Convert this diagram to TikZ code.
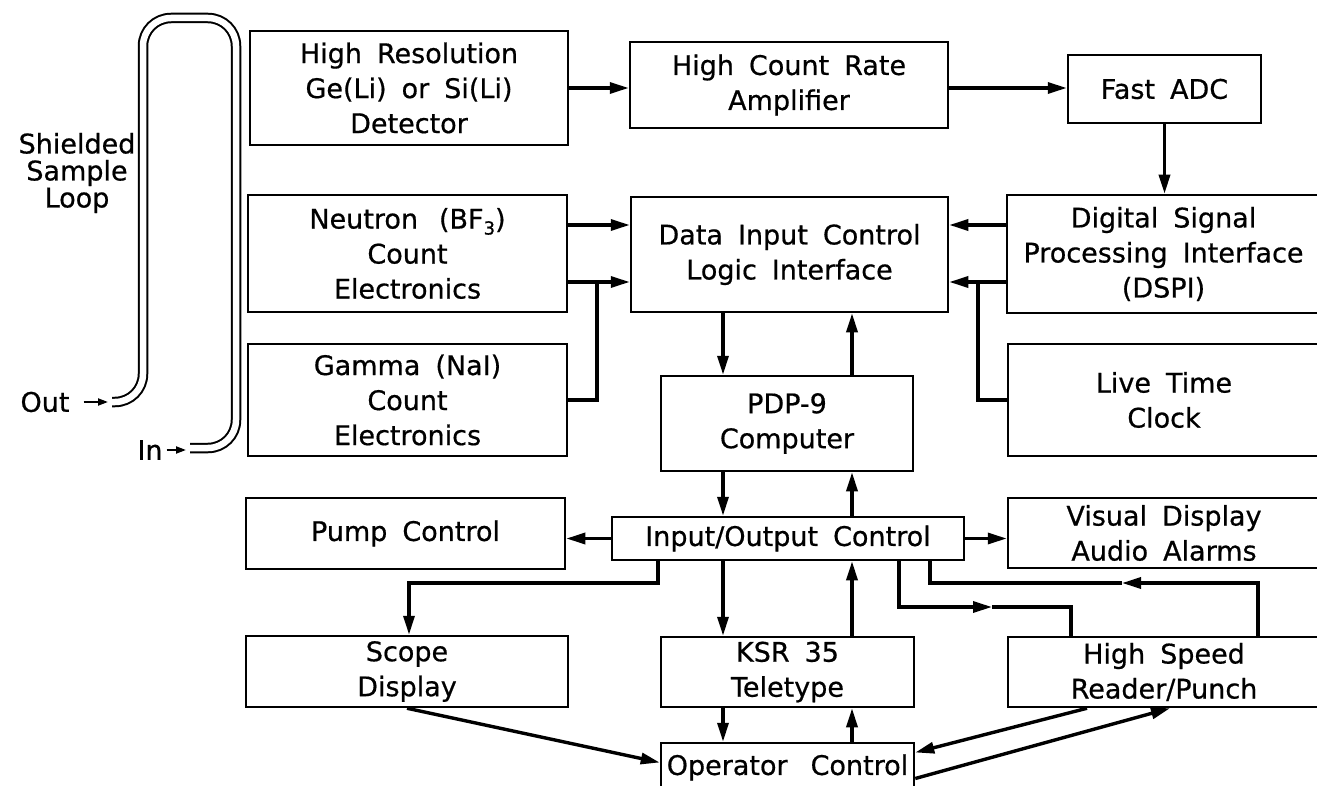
\documentclass[tikz,border=0pt]{standalone}
\usepackage{fontspec}
\setmainfont{DejaVu Sans}[FakeBold=0.6]
\usetikzlibrary{arrows.meta}
\newcommand\myboxfont{\fontsize{27}{35}\selectfont\spaceskip=15pt plus 3pt minus 2pt\relax}
\begin{document}
\begin{tikzpicture}[x=1pt,y=-1pt,
  box/.style={draw, line width=2.5pt, inner sep=0pt, align=center, font=\myboxfont},
  conn/.style={line width=3.4pt},
  arr/.style={conn, -{Triangle[length=19pt,width=11pt]}},
  smallarr/.style={line width=2pt, -{Triangle[length=10pt,width=7pt]}},
  tube/.style={double, double distance=6.5pt, line width=2pt, rounded corners=28pt},
  lbl/.style={inner sep=0pt, align=center, font=\fontsize{27}{27}\selectfont},
]
\useasboundingbox (0,0) rectangle (1317,786);
\clip (0,0) rectangle (1317,786);

% ---------- boxes ----------
\node[box, minimum width=318pt, minimum height=114pt] (det) at (409,88)
  {High Resolution\\Ge(Li) or Si(Li)\\Detector};
\node[box, minimum width=318pt, minimum height=86pt] (amp) at (789,85)
  {High Count Rate\\Amplifier};
\node[box, minimum width=193pt, minimum height=68pt] (adc) at (1164.5,89)
  {Fast ADC};
\node[box, minimum width=319pt, minimum height=117pt] (neut) at (407.5,253.5)
  {Neutron\hspace{6pt} (BF{\fontsize{18}{18}\selectfont\raisebox{-6pt}{3}})\\Count\\Electronics};
\node[box, minimum width=317pt, minimum height=115pt] (dicl) at (789.5,254.5)
  {Data Input Control\\Logic Interface};
\node[box, minimum width=313pt, minimum height=118pt] (dspi) at (1163.5,254)
  {Digital Signal\\Processing Interface\\(DSPI)};
\node[box, minimum width=319pt, minimum height=112pt] (gamma) at (407.5,400)
  {Gamma (NaI)\\Count\\Electronics};
\node[box, minimum width=252pt, minimum height=95pt] (pdp) at (787,423.5)
  {PDP-9\\Computer};
\node[box, minimum width=312pt, minimum height=112pt] (live) at (1164,400)
  {Live Time\\Clock};
\node[box, minimum width=319pt, minimum height=71pt] (pump) at (405.5,533.5)
  {Pump Control};
\node[box, minimum width=352pt, minimum height=43pt] (io) at (788,538.5)
  {Input/Output Control};
\node[box, minimum width=312pt, minimum height=70pt] (vis) at (1164,533)
  {Visual Display\\Audio Alarms};
\node[box, minimum width=322pt, minimum height=71pt] (scope) at (407,671.5)
  {Scope\\Display};
\node[box, minimum width=253pt, minimum height=70pt] (ksr) at (787.5,672)
  {KSR 35\\Teletype};
\node[box, minimum width=253pt, minimum height=49pt] (op) at (787.5,767.5)
  {Operator\hspace{8pt} Control};
\node[box, minimum width=312pt, minimum height=70pt] (hsrp) at (1164,672)
  {High Speed\\Reader/Punch};

% ---------- sample loop ----------
\node[lbl] (shl) at (77,173) {Shielded\\Sample\\Loop};
\node[lbl] (outl) at (45,402) {Out};
\node[lbl] (inl) at (150,450) {In};
\coordinate (outT) at (108,402);
\coordinate (inT) at (186,450);
\draw[tube] (112,402) -- (143,402) -- (143,18) -- (236,18) -- (236,448) -- (190,448);
\draw[smallarr] ([xshift=14pt]outl.east) -- (outT);
\draw[smallarr] ([xshift=4pt]inl.east) -- (inT);

% ---------- helper coordinates ----------
\coordinate (ya) at (0,225);
\coordinate (yb) at (0,282);
\coordinate (xa) at (723,0);
\coordinate (xb) at (852,0);
\coordinate (jn) at (597,282);
\coordinate (jl) at (978,282);
\coordinate (s1) at (658,583);
\coordinate (s2) at (409,583);
\coordinate (h1) at (899,607);
\coordinate (hm) at (992,607);
\coordinate (h2) at (1071,607);
\coordinate (r1) at (1258,583);
\coordinate (rm) at (1122,583);
\coordinate (r2) at (930,583);

% ---------- connectors ----------
\draw[arr] (det.east) -- (amp.west |- det.east);
\draw[arr] (amp.east |- det.east) -- (adc.west |- det.east);
\draw[arr] (adc.south) -- (adc.south |- dspi.north);

\draw[arr] (neut.east |- ya) -- (dicl.west |- ya);
\draw[arr] (neut.east |- yb) -- (dicl.west |- yb);
\draw[conn] (gamma.east) -| (jn);

\draw[arr] (dspi.west |- ya) -- (dicl.east |- ya);
\draw[arr] (dspi.west |- yb) -- (dicl.east |- yb);
\draw[conn] (live.west) -| (jl);

\draw[arr] (dicl.south -| xa) -- (pdp.north -| xa);
\draw[arr] (pdp.north -| xb) -- (dicl.south -| xb);
\draw[arr] (pdp.south -| xa) -- (io.north -| xa);
\draw[arr] (io.north -| xb) -- (pdp.south -| xb);

\draw[arr] (io.west) -- (pump.east |- io.west);
\draw[arr] (io.east) -- (vis.west |- io.east);

\draw[arr] (io.south -| s1) -- (s1) -- (s2) -- (scope.north -| s2);
\draw[arr] (io.south -| xa) -- (ksr.north -| xa);
\draw[arr] (ksr.north -| xb) -- (io.south -| xb);

\draw[arr] (io.south -| h1) -- (h1) -- (hm);
\draw[conn] (hm) -- (h2) -- (hsrp.north -| h2);
\draw[arr] (hsrp.north -| r1) -- (r1) -- (rm);
\draw[conn] (rm) -- (r2) -- (io.south -| r2);

\draw[arr] (ksr.south -| xa) -- (op.north -| xa);
\draw[arr] (op.north -| xb) -- (ksr.south -| xb);

\draw[arr] (scope.south) -- ([yshift=5pt]op.west);
\draw[arr] ([xshift=-77pt]hsrp.south) -- ([yshift=15pt]op.east);
\draw[arr] ([yshift=-11pt]op.east) -- ([xshift=6pt]hsrp.south);
\end{tikzpicture}
\end{document}
